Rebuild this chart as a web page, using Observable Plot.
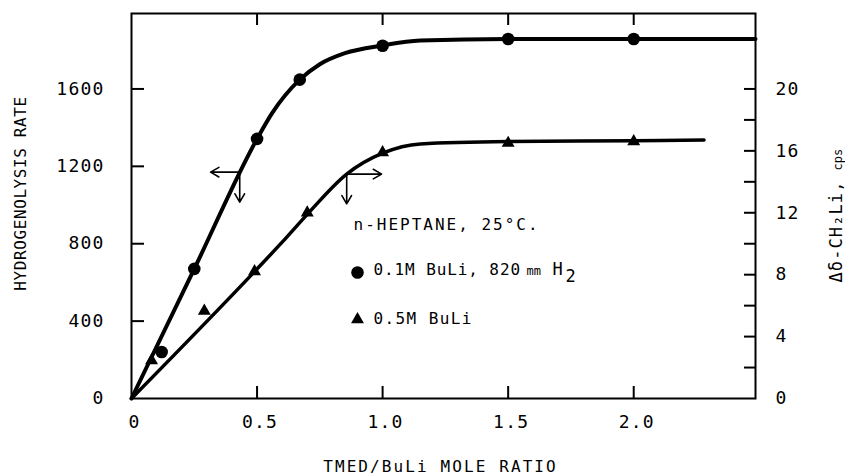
<!DOCTYPE html>
<html><head><meta charset="utf-8">
<script src="https://cdn.jsdelivr.net/npm/d3@7"></script>
<script src="https://cdn.jsdelivr.net/npm/@observablehq/plot@0.6"></script>
<style>
body{margin:0;background:#fff;}
svg text{font-family:"DejaVu Sans Mono",monospace;}
g[aria-label="y-axis tick label"] text, g[aria-label="x-axis tick label"] text{letter-spacing:1.2px}
g[aria-description="a1"] text{letter-spacing:2px}
g[aria-description="a2"] text{letter-spacing:0.9px}
g[aria-description="a3"] text{letter-spacing:1.4px}
g[aria-description="xtitle"] text{letter-spacing:2.1px}
g[aria-description="ytitle"] text{letter-spacing:0.6px}
g[aria-description="y2title"] text{letter-spacing:1.1px}
</style></head><body><div id="chart"></div><script>
// Circles: hydrogenolysis rate (left axis), 0.1M BuLi, 820 mm H2
const circleX = [0.12, 0.25, 0.5, 0.67, 1.0, 1.5, 2.0];
const circleY = [240, 670, 1342, 1648, 1823, 1858, 1858];
// Smooth curve through the circles
const circleCurveX = [0, 0.25, 0.5, 0.56, 0.67, 0.75, 0.85, 1.0, 1.15, 1.5, 2.485];
const circleCurveY = [0, 670, 1342, 1475, 1648, 1728, 1785, 1825, 1850, 1858, 1858];
// Triangles: Δδ-CH2Li, cps (right axis), 0.5M BuLi
const triX = [0.08, 0.29, 0.49, 0.70, 1.0, 1.5, 2.0];
const triY = [2.45, 5.65, 8.2, 12.0, 15.9, 16.5, 16.6];
const triCurveX = [0, 0.49, 0.6, 0.7, 0.857, 1.0, 1.15, 1.5, 2.0, 2.28];
const triCurveY = [0, 8.2, 10.1, 11.9, 14.5, 15.85, 16.45, 16.6, 16.65, 16.7];
// axis ticks
const xTickLabels = [0, 0.5, 1.0, 1.5, 2.0];
const xTickMarks = [0.5, 1.0, 1.5, 2.0];
const leftTicks = [0, 400, 800, 1200, 1600];
const rightTickLabels = [0, 4, 8, 12, 16, 20];
const rightTickMarks = [2, 4, 6, 8, 10, 12, 14, 16, 18, 20];
// arrows pointing to the relevant axis (rate units)
const arrowX1 = [0.431, 0.431, 0.857, 0.857];
const arrowY1 = [1170, 1170, 1160, 1160];
const arrowX2 = [0.315, 0.431, 0.996, 0.857];
const arrowY2 = [1170, 1015, 1160, 1006];
// texts
const annoTitle = "n-HEPTANE, 25°C.";
const legend1 = "0.1M BuLi, 820";
const legend1b = "mm";
const legend1c = "H";
const legend1d = "2";
const legend2 = "0.5M BuLi";
const xTitle = "TMED/BuLi MOLE RATIO";
const yTitle = "HYDROGENOLYSIS RATE";
const y2Title = "Δδ-CH₂Li,";
const y2Unit = "cps";

const K = 80; // rate units per cps
const mL = 131, mR = 90, mT = 13, mB = 78, W = 845, H = 476;
const fw = W - mL - mR, fh = H - mT - mB;

const circles = circleX.map((x, i) => ({x, y: circleY[i]}));
const circleCurve = circleCurveX.map((x, i) => ({x, y: circleCurveY[i]}));
const tris = triX.map((x, i) => ({x, y: triY[i] * K}));
const triCurve = triCurveX.map((x, i) => ({x, y: triCurveY[i] * K}));
const arrows = arrowX1.map((x1, i) => ({x1, y1: arrowY1[i], x2: arrowX2[i], y2: arrowY2[i]}));

const TL = {frameAnchor: "top-left", textAnchor: "start", lineAnchor: "middle"};

const chart = Plot.plot({
  width: W, height: H,
  marginLeft: mL, marginRight: mR, marginTop: mT, marginBottom: mB,
  x: {domain: [0, 2.485]},
  y: {domain: [0, 1990]},
  style: {fontFamily: "DejaVu Sans Mono", color: "black", background: "white"},
  marks: [
    Plot.frame({stroke: "black", strokeWidth: 2}),
    // ticks (inward)
    Plot.tickY(leftTicks.slice(1), {y: d => d, insetRight: fw - 13, strokeWidth: 2}),
    Plot.tickY(rightTickMarks, {y: d => d * K, insetLeft: fw - 11, strokeWidth: 2}),
    Plot.tickX(xTickMarks, {x: d => d, insetTop: fh - 12, strokeWidth: 2}),
    Plot.tickX(xTickMarks, {x: d => d, insetBottom: fh - 12, strokeWidth: 2}),
    // tick labels
    Plot.axisY({anchor: "left", ticks: leftTicks, tickFormat: d => String(d), tickSize: 0, tickPadding: 27, label: null, fontSize: 18}),
    Plot.axisY({anchor: "right", ticks: rightTickLabels.map(v => v * K), tickFormat: d => String(d / K), tickSize: 0, tickPadding: 20, label: null, fontSize: 18}),
    Plot.axisX({anchor: "bottom", ticks: xTickLabels, tickFormat: d => d === 0 ? "0" : d.toFixed(1), tickSize: 0, tickPadding: 17, label: null, fontSize: 18, dx: 3}),
    // curves
    Plot.line(circleCurve, {x: "x", y: "y", curve: "monotone-x", stroke: "black", strokeWidth: 4}),
    Plot.line(triCurve, {x: "x", y: "y", curve: "monotone-x", stroke: "black", strokeWidth: 3.5, strokeLinecap: "round"}),
    // points
    Plot.dot(circles, {x: "x", y: "y", r: 6.3, fill: "black", symbol: "circle"}),
    Plot.dot(tris, {x: "x", y: "y", r: 4.8, fill: "black", symbol: "triangle"}),
    // arrows
    Plot.arrow(arrows, {x1: "x1", y1: "y1", x2: "x2", y2: "y2", headLength: 9, strokeWidth: 1.6, stroke: "black"}),
    // annotations
    Plot.text([annoTitle], {...TL, dx: 353 - mL, dy: 224 - mT, fontSize: 16, ariaDescription: "a1"}),
    Plot.dot([0], {frameAnchor: "top-left", dx: 357 - mL, dy: 272 - mT, r: 6.3, fill: "black", symbol: "circle"}),
    Plot.text([legend1], {...TL, dx: 373 - mL, dy: 269 - mT, fontSize: 16, ariaDescription: "a2"}),
    Plot.text([legend1b], {...TL, dx: 526 - mL, dy: 271 - mT, fontSize: 12}),
    Plot.text([legend1c], {...TL, dx: 552 - mL, dy: 269 - mT, fontSize: 17}),
    Plot.text([legend1d], {...TL, dx: 565 - mL, dy: 276 - mT, fontSize: 17}),
    Plot.dot([0], {frameAnchor: "top-left", dx: 357 - mL, dy: 319 - mT, r: 4.8, fill: "black", symbol: "triangle"}),
    Plot.text([legend2], {...TL, dx: 373 - mL, dy: 318 - mT, fontSize: 16, ariaDescription: "a3"}),
    // axis titles
    Plot.text([xTitle], {frameAnchor: "bottom", textAnchor: "middle", lineAnchor: "middle", dx: -3, dy: 466 - (H - mB), fontSize: 16, ariaDescription: "xtitle"}),
    Plot.text([yTitle], {frameAnchor: "left", textAnchor: "middle", lineAnchor: "middle", rotate: -90, dx: 20 - mL, dy: 193 - (mT + fh / 2), fontSize: 16, ariaDescription: "ytitle"}),
    Plot.text([y2Title], {frameAnchor: "bottom-right", rotate: -90, textAnchor: "start", lineAnchor: "bottom", dx: 841 - (W - mR), dy: 282 - (H - mB), fontSize: 17, ariaDescription: "y2title"}),
    Plot.text([y2Unit], {frameAnchor: "bottom-right", rotate: -90, textAnchor: "start", lineAnchor: "bottom", dx: 841 - (W - mR), dy: 170 - (H - mB), fontSize: 12})
  ]
});
document.getElementById("chart").appendChild(chart);
</script></body></html>
